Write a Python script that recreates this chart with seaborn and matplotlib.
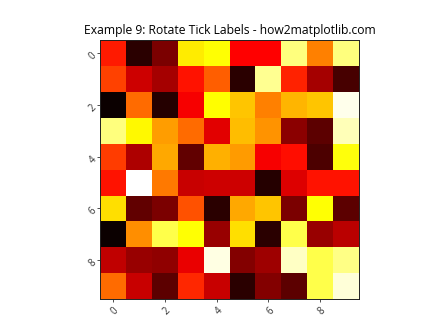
import numpy as np
import pandas as pd
import matplotlib
matplotlib.use("Agg")
import matplotlib.pyplot as plt
import seaborn as sns

row0 = [0.41, 0.06, 0.18, 0.72, 0.75, 0.37, 0.37, 0.87, 0.56, 0.87]
row1 = [0.47, 0.30, 0.24, 0.40, 0.51, 0.06, 0.89, 0.42, 0.24, 0.10]
row2 = [0.01, 0.53, 0.05, 0.36, 0.746, 0.66, 0.56, 0.64, 0.66, 0.98]
row3 = [0.87, 0.74, 0.605, 0.53, 0.33, 0.65, 0.59, 0.20, 0.13, 0.93]
row4 = [0.46, 0.25, 0.62, 0.14, 0.63, 0.60, 0.36, 0.39, 0.11, 0.76]
row5 = [0.40, 1.00, 0.55, 0.29, 0.30, 0.30, 0.05, 0.32, 0.40, 0.40]
row6 = [0.70, 0.14, 0.18, 0.49, 0.06, 0.62, 0.66, 0.18, 0.75, 0.13]
row7 = [0.01, 0.58, 0.82, 0.75, 0.22, 0.70, 0.06, 0.82, 0.22, 0.27]
row8 = [0.28, 0.22, 0.21, 0.34, 0.97, 0.19, 0.23, 0.94, 0.82, 0.88]
row9 = [0.53, 0.29, 0.13, 0.43, 0.29, 0.06, 0.19, 0.13, 0.82, 0.96]

tick_positions = [0, 2, 4, 6, 8]
tick_labels = ["0", "2", "4", "6", "8"]

data = pd.DataFrame([row0, row1, row2, row3, row4, row5, row6, row7, row8, row9])

plt.rcParams['font.family'] = ['Open Sans', 'DejaVu Sans']
fig, ax = plt.subplots(figsize=(6.4, 4.8), dpi=70)
sns.heatmap(data, cmap="hot", cbar=False, square=True, ax=ax,
            xticklabels=False, yticklabels=False)
ax.set_xticks([p + 0.5 for p in tick_positions])
ax.set_xticklabels(tick_labels, rotation=45, ha='right', rotation_mode='anchor')
ax.set_yticks([p + 0.5 for p in tick_positions])
ax.set_yticklabels(tick_labels, rotation=45, ha='right', rotation_mode='anchor')
for s in ax.spines.values():
    s.set_visible(True)
    s.set_color('#222222')
    s.set_linewidth(1.0)
ax.tick_params(length=3.5, width=0.8, color='#222222', labelsize=10, labelcolor='#333333')
ax.set_title("Example 9: Rotate Tick Labels - how2matplotlib.com", fontsize=12.5)
fig.savefig("out.png", dpi=70)
